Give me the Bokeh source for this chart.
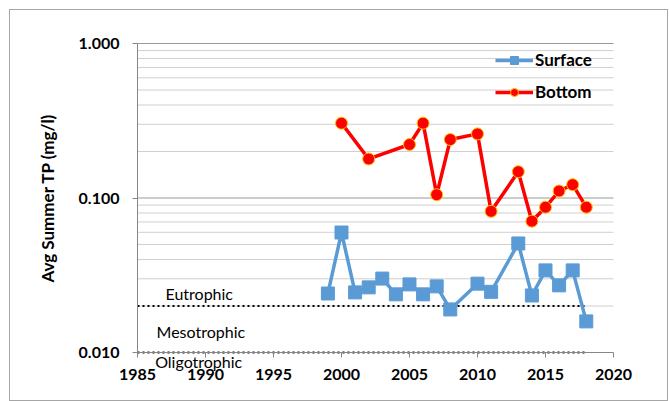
from bokeh.plotting import figure
from bokeh.models import FixedTicker, PrintfTickFormatter, Label, Range1d
from bokeh.embed import file_html
from bokeh.resources import INLINE

# ---- data ----
surface_years = [1999, 2000, 2001, 2002, 2003, 2004, 2005, 2006, 2007, 2008,
                 2010, 2011, 2013, 2014, 2015, 2016, 2017, 2018]
surface_tp = [0.0241, 0.0598, 0.0245, 0.0264, 0.0301, 0.0238, 0.0276, 0.0238,
              0.0268, 0.0190, 0.0279, 0.0247, 0.0508, 0.0234, 0.0340, 0.0272,
              0.0340, 0.0159]

bottom_years = [2000, 2002, 2005, 2006, 2007, 2008, 2010, 2011, 2013, 2014,
                2015, 2016, 2017, 2018]
bottom_tp = [0.305, 0.179, 0.222, 0.305, 0.105, 0.239, 0.260, 0.082, 0.148,
             0.0708, 0.0872, 0.111, 0.122, 0.0872]

threshold_years = [1985, 2018]
eutrophic_level = [0.02, 0.02]
oligotrophic_level = [0.01, 0.01]

trophic_names = ["Eutrophic", "Mesotrophic", "Oligotrophic"]
trophic_x = [1987.06, 1986.4, 1986.3]
trophic_y = [0.0241, 0.01368, 0.00874]

x_ticks = [1985, 1990, 1995, 2000, 2005, 2010, 2015, 2020]
x_axis_bounds = (1985, 2020)
y_major = [0.1, 1.0]
y_minor = [m * d for d in (0.01, 0.1) for m in range(2, 10)]
y_axis_ticks = [0.01, 0.1, 1.0]
y_axis_bounds = (0.01, 1.0)

FONT = "Lato"
AXIS_GRAY = "#868686"

# frame covers the whole chart area; axes sit at fixed data locations
p = figure(
    output_backend="svg", toolbar_location=None,
    y_axis_type="log",
    x_range=Range1d(1975.662, 2023.971), y_range=Range1d(0.004891, 1.6354),
    frame_width=657, frame_height=390,
    min_border_left=0, min_border_right=0,
    min_border_top=0, min_border_bottom=0,
)
p.styles = {"border": "1px solid #a6a6a6", "margin-left": "9px",
            "margin-top": "9px"}
p.outline_line_color = None
p.background_fill_color = "white"
p.border_fill_color = "white"
p.xgrid.visible = False
p.ygrid.visible = False

# horizontal gridlines over the axis extent only
p.segment(x0=x_axis_bounds[0], x1=x_axis_bounds[1], y0=y_minor, y1=y_minor,
          line_color="#d0d0d0", line_width=1)
p.segment(x0=x_axis_bounds[0], x1=x_axis_bounds[1], y0=y_major, y1=y_major,
          line_color="#9a9a9a", line_width=1)

# axes
p.xaxis.ticker = FixedTicker(ticks=x_ticks)
p.xaxis.fixed_location = 0.01
p.xaxis.bounds = x_axis_bounds
p.yaxis.ticker = FixedTicker(ticks=y_axis_ticks)
p.yaxis.formatter = PrintfTickFormatter(format="%.3f")
p.yaxis.fixed_location = 1985
p.yaxis.bounds = y_axis_bounds
for ax in (p.xaxis, p.yaxis):
    ax.axis_line_color = AXIS_GRAY
    ax.major_tick_line_color = AXIS_GRAY
    ax.major_tick_out = 5
    ax.major_tick_in = 0
    ax.minor_tick_out = 0
    ax.minor_tick_in = 0
    ax.major_label_text_font = FONT
    ax.major_label_text_font_style = "bold"
    ax.major_label_text_font_size = "16px"
    ax.major_label_text_color = "black"
p.xaxis.major_label_standoff = 11
p.yaxis.major_label_standoff = 13
p.yaxis.axis_label = "Avg Summer TP (mg/l)"
p.yaxis.axis_label_text_font = FONT
p.yaxis.axis_label_text_font_style = "bold"
p.yaxis.axis_label_text_font_size = "17px"
p.yaxis.axis_label_text_color = "black"
p.yaxis.axis_label_standoff = 18

# threshold lines
p.line(threshold_years, eutrophic_level, line_color="black", line_width=2,
       line_dash="2 3")
p.line(threshold_years, oligotrophic_level, line_color="black", line_width=2,
       line_dash="2 3")

# series
BLUE = "#5B9BD5"
RED = "#FF0000"
p.line(surface_years, surface_tp, line_color=BLUE, line_width=3.5,
       legend_label="Surface")
p.scatter(surface_years, surface_tp, marker="square", size=13,
          fill_color=BLUE, line_color=BLUE, legend_label="Surface")
p.line(bottom_years, bottom_tp, line_color=RED, line_width=3.5,
       legend_label="Bottom")
p.scatter(bottom_years, bottom_tp, marker="circle", size=12,
          fill_color=RED, line_color="#FFC000", line_width=1,
          legend_label="Bottom")

for name, tx, ty in zip(trophic_names, trophic_x, trophic_y):
    p.add_layout(Label(x=tx, y=ty, text=name, text_font=FONT,
                       text_font_size="16px", text_baseline="middle",
                       text_color="black"))

leg = p.legend[0]
leg.location = (485, 298)
leg.background_fill_alpha = 0
leg.border_line_color = None
leg.padding = 0
leg.margin = 0
leg.spacing = 11
leg.glyph_width = 38
leg.glyph_height = 20
leg.label_height = 20
leg.label_standoff = 2
leg.label_text_font = FONT
leg.label_text_font_style = "bold"
leg.label_text_font_size = "17px"
leg.label_text_color = "black"

open("out.html", "w").write(file_html(p, INLINE))
